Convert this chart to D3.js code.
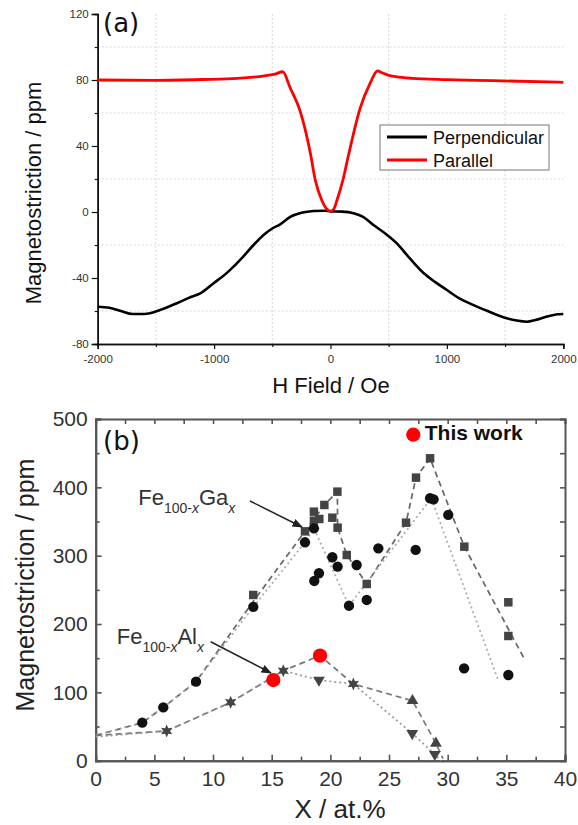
<!DOCTYPE html>
<html>
<head>
<meta charset="utf-8">
<script src="https://cdn.jsdelivr.net/npm/d3@7"></script>
<style>
  body { margin: 0; background: #fff; }
  svg { display: block; }
</style>
</head>
<body>
<div id="chart"></div>
<script>
// ---------- panel (a) data : magnetostriction vs field ----------
const perp_H = [-2000, -1900, -1800, -1700, -1600, -1550, -1450, -1320, -1200, -1119, -1005, -900, -833, -750,
  -661, -575, -500, -432, -346, -250, -146, -50, 0, 100, 198, 280, 369, 470, 570, 680, 799, 900, 1000,
  1100, 1229, 1350, 1515, 1600, 1687, 1760, 1859, 1950, 2000];
const perp_M = [-57.4, -58, -60, -61.8, -61.8, -61.4, -59, -55.3, -51.5, -49.3, -43.2, -37.5, -33.1, -27,
  -20, -13.9, -10, -7.5, -3, -0.5, 0.6, 0.8, 0.4, 0.2, -0.8, -3, -7.9, -13, -19, -28, -37, -42.5, -47.3,
  -52, -56.4, -60, -64.4, -65.8, -66.5, -65.5, -63.4, -62, -61.8];
const par_H = [-2000, -1500, -1100, -800, -580, -480, -410, -345, -260, -174, -131, -74, -35, 0,
  30, 55, 109, 150, 255, 340, 405, 440, 500, 560, 700, 1000, 1400, 2000];
const par_M = [80, 79.8, 80.3, 81, 82.4, 83.5, 85, 75, 61, 36, 19.4, 7, 2, 0.5,
  2, 7, 20, 33, 63, 78, 85.5, 84.5, 82.8, 82, 81, 80.2, 79.6, 78.6];
const a_x_ticks = [-2000, -1000, 0, 1000, 2000];
const a_x_minor = [-1500, -500, 500, 1500];
const a_y_ticks = [-80, -40, 0, 40, 80, 120];
const a_y_minor = [-60, -20, 20, 60, 100];
const a_series = ["Perpendicular", "Parallel"];

// ---------- panel (b) data : magnetostriction vs composition ----------
const ga_sq_X = [13.43, 17.84, 18.6, 18.6, 19.06, 19.49, 20.6, 20.17, 20.62, 21.4, 23.1, 26.45, 27.3, 28.5, 31.42, 35.17, 35.17];
const ga_sq_Y = [242.5, 335.6, 364.4, 351.2, 353.7, 374.2, 393.7, 355.6, 341, 301, 258.6, 348.3, 414.2, 442.5, 313.2, 231.8, 182.5];
const ga_dot_X = [3.97, 5.76, 8.55, 13.43, 17.84, 18.6, 18.63, 19.03, 20.17, 20.62, 21.59, 22.24, 23.1, 24.09, 27.27, 28.5, 28.8, 30.05, 31.4, 35.17];
const ga_dot_Y = [55.6, 78, 115.6, 225, 319.6, 340, 263, 274.3, 297.7, 284, 226.8, 286.4, 235.2, 310.8, 308.4, 384, 382.5, 359.6, 135.2, 125.4];
const al_star_X = [6.05, 11.5, 15.99, 21.96];
const al_star_Y = [43.5, 85.4, 131.7, 112.2];
const al_up_X = [27.0, 29.0];
const al_up_Y = [87.8, 25.4];
const al_down_X = [19.03, 26.98, 28.9];
const al_down_Y = [118, 40, 9.4];
const work_X = [15.14, 19.12];
const work_Y = [118, 153.7];
// guide lines
const ga_dash_X = [0, 3.97, 5.76, 8.55, 13.43, 17.84, 19.49, 20.6, 20.62, 21.4, 23.1, 26.45, 27.3, 28.5, 31.42, 36.5];
const ga_dash_Y = [37, 55.6, 78, 115.6, 233, 335.6, 374.2, 393.7, 341, 301, 258.6, 348.3, 414.2, 442.5, 313.2, 150];
const ga_dott_X = [0, 3.97, 5.76, 8.55, 13.43, 17.84, 18.6, 21.59, 28.6, 34.3];
const ga_dott_Y = [37, 55.6, 78, 115.6, 225, 319.6, 340, 226.8, 384, 118];
const al_dash_X = [0, 6.05, 11.5, 15.99, 19.12, 21.96, 27.0, 29.0, 29.6];
const al_dash_Y = [37, 43.5, 85.4, 131.7, 153.7, 112.2, 87.8, 25.4, 3];
const al_dott_X = [0, 6.05, 11.5, 15.99, 19.03, 21.96, 26.98, 28.9, 29.4];
const al_dott_Y = [35, 43.5, 85.4, 131.7, 118, 112.2, 40, 9.4, 0];
const b_x_ticks = [0, 5, 10, 15, 20, 25, 30, 35, 40];
const b_x_minor = [2.5, 7.5, 12.5, 17.5, 22.5, 27.5, 32.5, 37.5];
const b_y_ticks = [0, 100, 200, 300, 400, 500];
const b_y_minor = [50, 150, 250, 350, 450];

const zip = (xs, ys) => xs.map((x, i) => [x, ys[i]]);
// plain hyphen minus, no thousands separator
const plain = d => String(d);

let svg = d3.select("#chart").append("svg")
  .attr("width", 578)
  .attr("height", 825);

const SANS = "'Liberation Sans', Arial, sans-serif";

// =====================================================
// Panel (a)
// =====================================================
let a_x = d3.scaleLinear().domain([-2000, 2000]).range([97.7, 563.3]);
let a_y = d3.scaleLinear().domain([-80, 120]).range([344, 14]);

let ga = svg.append("g");

// dotted grid at the minor positions
ga.append("g").selectAll("line").data(a_x_minor).enter().append("line")
  .attr("x1", d => a_x(d)).attr("x2", d => a_x(d))
  .attr("y1", a_y(120)).attr("y2", a_y(-80))
  .attr("stroke", "#d8d8d8").attr("stroke-dasharray", "2,2");
ga.append("g").selectAll("line").data(a_y_minor).enter().append("line")
  .attr("x1", a_x(-2000)).attr("x2", a_x(2000))
  .attr("y1", d => a_y(d)).attr("y2", d => a_y(d))
  .attr("stroke", "#d8d8d8").attr("stroke-dasharray", "2,2");

// axes
ga.append("g").attr("transform", "translate(" + a_x(-2000) + ",0)")
  .call(d3.axisLeft(a_y).tickValues(a_y_ticks).tickFormat(plain).tickSize(6).tickPadding(3));
ga.append("g").attr("transform", "translate(" + a_x(-2000) + ",0)")
  .call(d3.axisLeft(a_y).tickValues(a_y_minor).tickSize(3).tickFormat(""));
ga.append("g").attr("transform", "translate(0," + a_y(-80) + ")")
  .call(d3.axisBottom(a_x).tickValues(a_x_ticks).tickFormat(plain).tickSize(5).tickPadding(6));
ga.append("g").attr("transform", "translate(0," + a_y(-80) + ")")
  .call(d3.axisBottom(a_x).tickValues(a_x_minor).tickSize(3).tickFormat(""));
ga.selectAll(".domain").attr("stroke", "#111").attr("stroke-width", 1.5);
ga.selectAll(".tick line").attr("stroke", "#111").attr("stroke-width", 1.2);
ga.selectAll(".tick text").attr("font-family", SANS).attr("font-size", 11.5).attr("fill", "#333");

// curves
let a_line = d3.line().x(d => a_x(d[0])).y(d => a_y(d[1])).curve(d3.curveMonotoneX);
ga.append("path").datum(zip(perp_H, perp_M))
  .attr("d", a_line).attr("fill", "none").attr("stroke", "#000").attr("stroke-width", 2.6);
ga.append("path").datum(zip(par_H, par_M))
  .attr("d", a_line).attr("fill", "none").attr("stroke", "#ff0000").attr("stroke-width", 2.8);

// legend
ga.append("rect").attr("x", 380).attr("y", 125).attr("width", 169).attr("height", 45)
  .attr("fill", "#fff").attr("stroke", "#777").attr("stroke-width", 1);
a_series.forEach((name, i) => {
  let yy = 137 + i * 23;
  ga.append("line").attr("x1", 387).attr("x2", 427).attr("y1", yy).attr("y2", yy)
    .attr("stroke", i === 0 ? "#000" : "#ff0000").attr("stroke-width", 3);
  ga.append("text").attr("x", 433).attr("y", yy + 6.5).text(name)
    .attr("font-family", SANS).attr("font-size", 18).attr("fill", "#111");
});

// titles
ga.append("text").attr("x", 103).attr("y", 32).text("(a)")
  .attr("font-family", "'DejaVu Sans', sans-serif").attr("font-size", 26).attr("fill", "#111");
ga.append("text").attr("transform", "translate(41,193) rotate(-90)")
  .attr("text-anchor", "middle").text("Magnetostriction / ppm")
  .attr("font-family", SANS).attr("font-size", 22).attr("fill", "#111");
ga.append("text").attr("x", 331).attr("y", 393).attr("text-anchor", "middle")
  .text("H Field / Oe").attr("font-family", SANS).attr("font-size", 22).attr("fill", "#111");

// =====================================================
// Panel (b)
// =====================================================
let b_x = d3.scaleLinear().domain([0, 40]).range([95.7, 565]);
let b_y = d3.scaleLinear().domain([0, 500]).range([760.7, 419]);

let gb = svg.append("g");

// frame with inward ticks on all sides
gb.append("g").attr("transform", "translate(" + b_x(0) + ",0)")
  .call(d3.axisLeft(b_y).tickValues(b_y_ticks).tickFormat(plain).tickSize(-6).tickPadding(8));
gb.append("g").attr("transform", "translate(" + b_x(0) + ",0)")
  .call(d3.axisLeft(b_y).tickValues(b_y_minor).tickSize(-4).tickFormat(""));
gb.append("g").attr("transform", "translate(" + b_x(40) + ",0)")
  .call(d3.axisRight(b_y).tickValues(b_y_ticks.concat(b_y_minor)).tickSize(-5).tickFormat(""));
gb.append("g").attr("transform", "translate(0," + b_y(0) + ")")
  .call(d3.axisBottom(b_x).tickValues(b_x_ticks).tickFormat(plain).tickSize(-6).tickPadding(10));
gb.append("g").attr("transform", "translate(0," + b_y(0) + ")")
  .call(d3.axisBottom(b_x).tickValues(b_x_minor).tickSize(-4).tickFormat(""));
gb.append("g").attr("transform", "translate(0," + b_y(500) + ")")
  .call(d3.axisTop(b_x).tickValues(b_x_ticks.concat(b_x_minor)).tickSize(-5).tickFormat(""));
gb.selectAll(".domain").attr("stroke", "#555").attr("stroke-width", 2);
gb.selectAll(".tick line").attr("stroke", "#555").attr("stroke-width", 1.6);
gb.selectAll(".tick text").attr("font-family", SANS).attr("font-size", 21).attr("fill", "#333");

// guide lines
let b_line = d3.line().x(d => b_x(d[0])).y(d => b_y(d[1]));
const guides = [
  [ga_dash_X, ga_dash_Y, "6,4", "#666"],
  [ga_dott_X, ga_dott_Y, "2,3", "#aaa"],
  [al_dash_X, al_dash_Y, "6,4", "#777"],
  [al_dott_X, al_dott_Y, "2,3", "#999"]
];
guides.forEach(g => {
  gb.append("path").datum(zip(g[0], g[1])).attr("d", b_line)
    .attr("fill", "none").attr("stroke", g[3]).attr("stroke-width", 1.7)
    .attr("stroke-dasharray", g[2]);
});

// custom six-point star
const star6 = {
  draw(context, size) {
    let r = Math.sqrt(size) * 0.62, ri = r * 0.5;
    for (let k = 0; k < 12; k++) {
      let ang = -Math.PI / 2 + k * Math.PI / 6;
      let rr = k % 2 === 0 ? r : ri;
      if (k === 0) context.moveTo(rr * Math.cos(ang), rr * Math.sin(ang));
      else context.lineTo(rr * Math.cos(ang), rr * Math.sin(ang));
    }
    context.closePath();
  }
};

const drawSymbols = (xs, ys, type, size, fill, rot) => {
  gb.append("g").selectAll("path").data(zip(xs, ys)).enter().append("path")
    .attr("transform", d => "translate(" + b_x(d[0]) + "," + b_y(d[1]) + ")" + (rot ? " rotate(" + rot + ")" : ""))
    .attr("d", d3.symbol().type(type).size(size))
    .attr("fill", fill);
};

drawSymbols(ga_sq_X, ga_sq_Y, d3.symbolSquare, 72, "#444");
drawSymbols(ga_dot_X, ga_dot_Y, d3.symbolCircle, 84, "#111");
drawSymbols(al_star_X, al_star_Y, star6, 110, "#444");
drawSymbols(al_up_X, al_up_Y, d3.symbolTriangle, 60, "#444");
drawSymbols(al_down_X, al_down_Y, d3.symbolTriangle, 60, "#444", 180);
drawSymbols(work_X, work_Y, d3.symbolCircle, 160, "#ff0000");

// "This work" key
drawSymbols([27.07], [477], d3.symbolCircle, 160, "#ff0000");
gb.append("text").attr("x", b_x(28.05)).attr("y", b_y(469))
  .text("This work").attr("font-family", SANS).attr("font-weight", "bold")
  .attr("font-size", 21).attr("fill", "#111");

// compound labels with arrows
svg.append("defs").append("marker")
  .attr("id", "arrow").attr("viewBox", "0 0 10 10").attr("refX", 9).attr("refY", 5)
  .attr("markerWidth", 7).attr("markerHeight", 7).attr("orient", "auto")
  .append("path").attr("d", "M0,1 L10,5 L0,9 Z").attr("fill", "#222");

const compound = (x0, y0, el, ax0, ay0, ax1, ay1) => {
  let t = gb.append("text").attr("x", b_x(x0)).attr("y", b_y(y0))
    .attr("font-family", SANS).attr("font-size", 22).attr("fill", "#333");
  t.append("tspan").text("Fe");
  t.append("tspan").attr("font-size", 14).attr("dy", 8).text("100-");
  t.append("tspan").attr("font-size", 14).attr("font-style", "italic").text("x");
  t.append("tspan").attr("dy", -8).text(el);
  t.append("tspan").attr("font-size", 14).attr("font-style", "italic").attr("dy", 8).text("x");
  gb.append("line")
    .attr("x1", b_x(ax0)).attr("y1", b_y(ay0)).attr("x2", b_x(ax1)).attr("y2", b_y(ay1))
    .attr("stroke", "#222").attr("stroke-width", 1.5).attr("marker-end", "url(#arrow)");
};
compound(3.63, 374, "Ga", 13.15, 380, 17.58, 342);
compound(1.79, 171, "Al", 9.8, 174, 14.94, 128.4);

// titles
gb.append("text").attr("x", 103).attr("y", 450).text("(b)")
  .attr("font-family", "'DejaVu Sans', sans-serif").attr("font-size", 26).attr("fill", "#111");
gb.append("text").attr("transform", "translate(34,585) rotate(-90)")
  .attr("text-anchor", "middle").text("Magnetostriction / ppm")
  .attr("font-family", SANS).attr("font-size", 25).attr("fill", "#222");
gb.append("text").attr("x", 340).attr("y", 818).attr("text-anchor", "middle")
  .text("X / at.%").attr("font-family", SANS).attr("font-size", 26).attr("fill", "#222");
</script>
</body>
</html>
